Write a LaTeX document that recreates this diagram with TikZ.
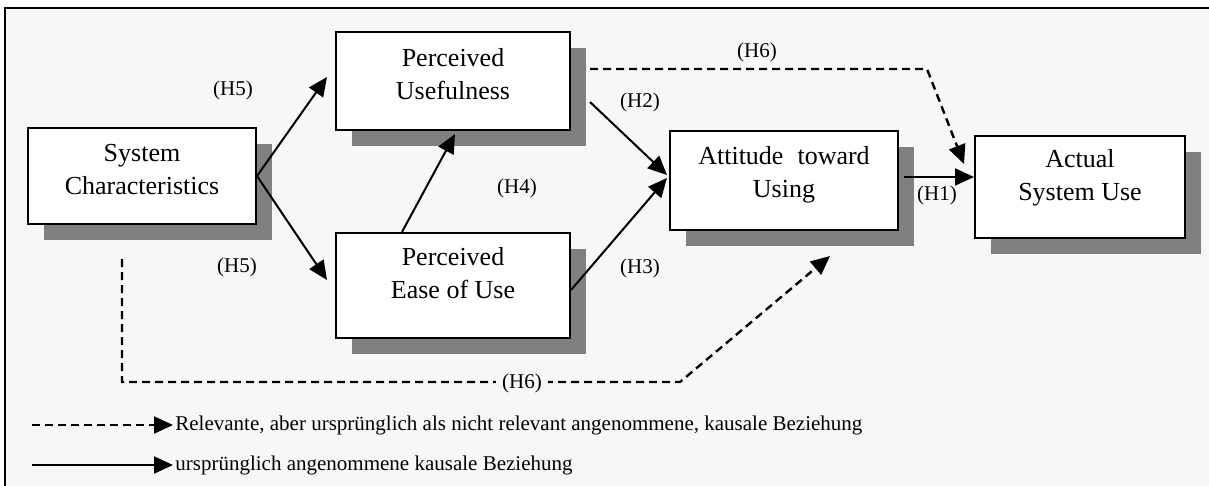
\documentclass[tikz,border=0pt]{standalone}
\usepackage{fontspec}
\setmainfont{Liberation Serif}
\usetikzlibrary{arrows.meta,shadows}
\definecolor{bggray}{HTML}{F7F7F7}
\definecolor{shadowgray}{HTML}{808080}
\tikzset{
  box/.style={draw, line width=1pt, fill=white, inner sep=0pt,
    drop shadow={shadow xshift=8pt, shadow yshift=-8pt, fill=shadowgray, opacity=1}},
  boxtext/.style={align=center, font=\fontsize{13}{16.5}\selectfont, inner sep=0pt},
  hyp/.style={font=\fontsize{10.5}{12}\selectfont, inner sep=1pt},
  legtext/.style={font=\fontsize{10.5}{12.5}\selectfont, anchor=west, inner sep=0pt},
  rel/.style={line width=1pt, -{Triangle[length=9.5pt,width=8.5pt]}},
  newrel/.style={rel, dash pattern=on 4pt off 2.5pt},
}
\begin{document}
\begin{tikzpicture}[x=0.5pt,y=-0.5pt]
  \useasboundingbox (0,0) rectangle (1209,486);
  % frame
  \fill[bggray] (5,8) rectangle (1209,486);
  \draw[line width=1.2pt] (5,486) -- (5,8) -- (1209,8);
  % boxes
  \node[box, minimum width=114pt, minimum height=48pt] (sc) at (142,176) {};
  \node[box, minimum width=117pt, minimum height=49pt] (pu) at (453,81) {};
  \node[box, minimum width=117pt, minimum height=52.5pt] (peou) at (453,285.5) {};
  \node[box, minimum width=114pt, minimum height=49.5pt] (atu) at (784,180.5) {};
  \node[box, minimum width=105pt, minimum height=51pt] (asu) at (1080,187) {};
  \node[boxtext] (sc-t) at (142,170) {System\\Characteristics};
  \node[boxtext] (pu-t) at (453,74) {Perceived\\Usefulness};
  \node[boxtext] (peou-t) at (453,273) {Perceived\\Ease of Use};
  \node[boxtext] (atu-t) at (784,175) {Attitude\hspace{7pt}toward\\Using};
  \node[boxtext] (asu-t) at (1080,178) {Actual\\System Use};
  % original relations
  \draw[rel] (sc.east) -- ([xshift=-4pt,yshift=2pt]pu.west);
  \draw[rel] (sc.east) -- ([xshift=-4pt,yshift=2.75pt]peou.west);
  \draw[rel] ([xshift=-25.5pt]peou.north) -- ([xshift=1pt,yshift=-1.5pt]pu.south);
  \draw[rel] ([xshift=9.5pt,yshift=-10.5pt]pu.east) -- ([xshift=-1pt,yshift=2.75pt]atu.west);
  \draw[rel] ([yshift=-2.25pt]peou.east) -- ([xshift=-1pt,yshift=1.25pt]atu.west);
  \draw[rel] ([xshift=2.5pt,yshift=1.75pt]atu.east) -- ([yshift=5pt]asu.west);
  % new relations
  \coordinate (ucorner) at (927,69);
  \draw[newrel, line width=1.2pt] ([xshift=9.5pt,yshift=6pt]pu.east) -- (ucorner)
    -- ([xshift=-5pt,yshift=-14.5pt]asu.north west);
  \coordinate (lcorner) at (680,382);
  \draw[newrel, line width=1.2pt] ([xshift=-10pt,yshift=-17pt]sc.south) |- (lcorner)
    -- ([xshift=23pt,yshift=-12.5pt]atu.south);
  % hypotheses
  \node[hyp] (h5a) at (233,90) {(H5)};
  \node[hyp] (h5b) at (237,267) {(H5)};
  \node[hyp] (h4) at (517,188) {(H4)};
  \node[hyp] (h2) at (640,102) {(H2)};
  \node[hyp] (h3) at (640,268) {(H3)};
  \node[hyp] (h6a) at (757,52) {(H6)};
  \node[hyp] (h1) at (937,195) {(H1)};
  \node[hyp, fill=bggray, inner xsep=3pt] (h6b) at (522,383) {(H6)};
  % legend
  \node[legtext] (leg1) at (175,425) {Relevante, aber urspr\"unglich als nicht relevant angenommene, kausale Beziehung};
  \node[legtext] (leg2) at (175,465) {urspr\"unglich angenommene kausale Beziehung};
  \coordinate (leg1s) at (32,425);
  \coordinate (leg2s) at (32,465);
  \draw[newrel] (leg1s) -- ([xshift=-1pt]leg1.west);
  \draw[rel] (leg2s) -- ([xshift=-1pt]leg2.west);
\end{tikzpicture}
\end{document}
